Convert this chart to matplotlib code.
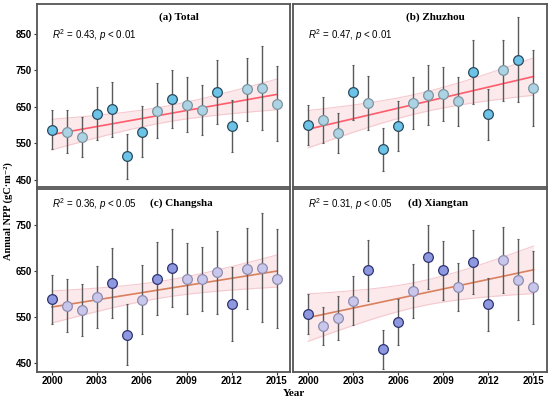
import numpy as np
import matplotlib

matplotlib.use("Agg")
import matplotlib.pyplot as plt

plt.rcParams["mathtext.fontset"] = "custom"
plt.rcParams["mathtext.rm"] = "Liberation Sans"
plt.rcParams["mathtext.it"] = "Liberation Sans:italic"

years = list(range(2000, 2016))
x_ticks = [2000, 2003, 2006, 2009, 2012, 2015]

# mean annual NPP and half-width of the error bars
npp_a = [587, 582, 568, 631, 643, 514, 582, 639, 671, 656, 642, 691, 598, 698, 702, 658]
sd_a = [54, 59, 55, 72, 75, 61, 69, 75, 80, 75, 68, 88, 72, 86, 116, 103]
npp_b = [600, 614, 578, 690, 660, 533, 598, 661, 683, 685, 665, 745, 629, 750, 779, 702]
sd_b = [55, 62, 55, 75, 75, 59, 69, 72, 82, 75, 68, 87, 70, 84, 117, 105]
npp_c = [588, 574, 565, 593, 624, 511, 587, 633, 656, 633, 632, 647, 578, 655, 657, 633]
sd_c = [53, 58, 56, 67, 76, 66, 75, 80, 84, 77, 70, 90, 80, 89, 118, 108]
npp_d = [556, 530, 548, 585, 651, 479, 538, 606, 680, 651, 615, 669, 577, 674, 631, 614]
sd_d = [44, 42, 48, 53, 66, 42, 50, 58, 70, 64, 52, 70, 58, 72, 88, 80]

# years drawn with the stronger marker colour
dark_a = [2000, 2003, 2004, 2005, 2006, 2008, 2011, 2012]
dark_b = [2000, 2003, 2005, 2006, 2011, 2012, 2014]
dark_c = [2000, 2004, 2005, 2007, 2008, 2012]
dark_d = [2000, 2004, 2005, 2006, 2008, 2009, 2011, 2012]

titles = ["(a) Total", "(b) Zhuzhou", "(c) Changsha", "(d) Xiangtan"]
stats = [r"$R^2$ = 0.43, $p$ < 0.01", r"$R^2$ = 0.47, $p$ < 0.01",
         r"$R^2$ = 0.36, $p$ < 0.05", r"$R^2$ = 0.31, $p$ < 0.05"]

blue = dict(dark=("#6cc3e8", "#2c4a5c"), light=("#acd3e3", "#7d949f"))
purple = dict(dark=("#8d98e0", "#2e3470"), light=("#c9c6ec", "#8f8cae"))

W, H = 550, 398
fig = plt.figure(figsize=(W / 100, H / 100), dpi=100)


def box(l, r, t, b):
    return [l / W, 1 - b / H, (r - l) / W, (b - t) / H]


panels = [
    (box(37, 290, 4, 187), npp_a, sd_a, dark_a, blue, "#ff5c6c", (430, 932), [450, 550, 650, 750, 850], True),
    (box(293, 547, 4, 187), npp_b, sd_b, dark_b, blue, "#ff5c6c", (430, 932), [], True),
    (box(37, 290, 189, 372), npp_c, sd_c, dark_c, purple, "#d9805e", (430, 828), [450, 550, 650, 750], False),
    (box(293, 547, 189, 372), npp_d, sd_d, dark_d, purple, "#d9805e", (430, 828), [], False),
]

x = np.array(years, dtype=float)
for i, (rect, y, sd, dark, pal, lc, ylim, yt, top) in enumerate(panels):
    ax = fig.add_axes(rect)
    y = np.array(y, dtype=float)

    # linear fit with 95% confidence band
    slope, icpt = np.polyfit(x, y, 1)
    xs = np.linspace(2000, 2015, 100)
    fit = slope * xs + icpt
    resid = y - (slope * x + icpt)
    n = len(x)
    s = np.sqrt(np.sum(resid ** 2) / (n - 2))
    se = s * np.sqrt(1 / n + (xs - x.mean()) ** 2 / np.sum((x - x.mean()) ** 2))
    ci = 2.145 * se
    ax.fill_between(xs, fit - ci, fit + ci, color="#fbe4e7", alpha=0.8, lw=0, zorder=1)
    ax.plot(xs, fit - ci, color="#f6c9cf", lw=0.8, zorder=1)
    ax.plot(xs, fit + ci, color="#f6c9cf", lw=0.8, zorder=1)
    ax.plot(xs, fit, color=lc, lw=1.2, zorder=2)

    ax.errorbar(x, y, yerr=sd, fmt="none", ecolor="#5a5a5a", elinewidth=1.0,
                capsize=1.0, capthick=0.8, zorder=3)
    for xi, yi in zip(years, y):
        fc, ec = pal["dark"] if xi in dark else pal["light"]
        ax.plot(xi, yi, "o", ms=7, mfc=fc, mec=ec, mew=0.9, zorder=4)

    ax.set_xlim(1999.0, 2015.9)
    ax.set_ylim(*ylim)
    ax.set_yticks(yt)
    if yt:
        ax.set_yticklabels([str(v) for v in yt], fontsize=7, fontweight="bold",
                           family="Liberation Sans")
    ax.set_xticks(x_ticks)
    ax.tick_params(length=2, width=0.8, color="#333333", pad=1.5)
    if top:
        ax.set_xticklabels([])
        ax.tick_params(axis="x", length=0)
    else:
        ax.set_xticklabels([str(v) for v in x_ticks], fontsize=7, fontweight="bold",
                           family="Liberation Sans")
        ax.tick_params(axis="x", pad=1)
    for sp in ax.spines.values():
        sp.set_color("#555555")
        sp.set_linewidth(1.3)

    if top:
        ax.text(0.56, 0.93, titles[i], transform=ax.transAxes, ha="center", va="center",
                fontsize=8, fontweight="bold", family="Liberation Serif")
        ax.text(0.06, 0.83, stats[i], transform=ax.transAxes, ha="left", va="center",
                fontsize=7, family="Liberation Sans")
    else:
        ax.text(0.57, 0.92, titles[i], transform=ax.transAxes, ha="center", va="center",
                fontsize=8, fontweight="bold", family="Liberation Serif")
        ax.text(0.06, 0.92, stats[i], transform=ax.transAxes, ha="left", va="center",
                fontsize=7, family="Liberation Sans")

fig.text(0.014, 0.47, "Annual NPP (gC·m⁻²)", rotation=90, ha="center", va="center",
         fontsize=7.5, fontweight="bold", family=["Liberation Serif", "DejaVu Serif"])
fig.text(0.535, 0.012, "Year", ha="center", va="center", fontsize=8,
         fontweight="bold", family="Liberation Serif")

fig.savefig("out.png", dpi=100)
